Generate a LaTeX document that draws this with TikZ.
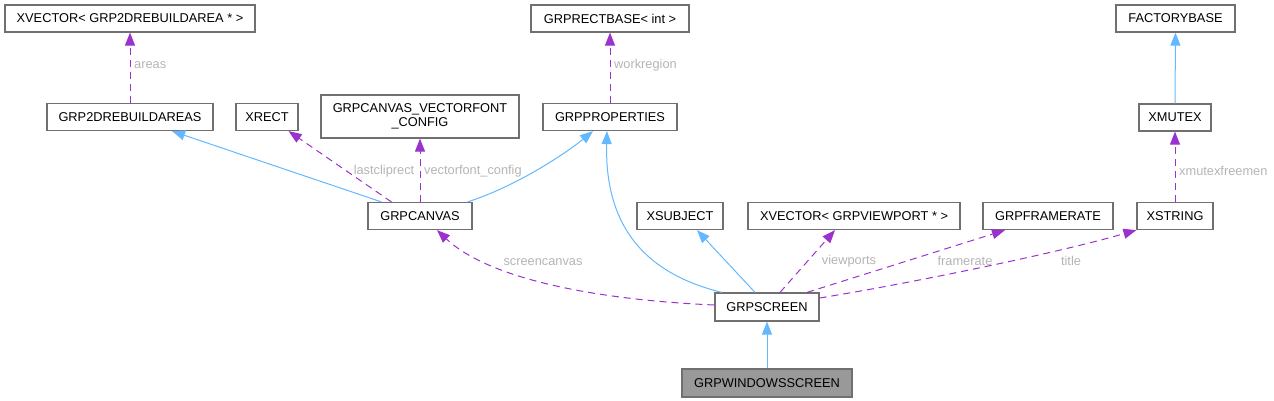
\documentclass[tikz,border=0pt]{standalone}
\usepackage{fontspec}
\setmainfont{Liberation Sans}
\usetikzlibrary{arrows.meta}
\definecolor{inhc}{HTML}{63B8FF}
\definecolor{usec}{HTML}{9A32CD}
\definecolor{boxc}{HTML}{707070}
\definecolor{labc}{HTML}{B4B4B4}
\definecolor{hlc}{HTML}{999999}
\begin{document}
\begin{tikzpicture}[x=1pt,y=-1pt,
  box/.style={draw=boxc, line width=1.2pt, fill=white, inner sep=0pt, minimum height=27pt, font=\fontsize{12.8}{14.5}\selectfont},
  hlbox/.style={box, fill=hlc},
  inh/.style={draw=inhc, line width=1pt, -{Triangle[length=13pt,width=10pt]}},
  use/.style={draw=usec, line width=1pt, dash pattern=on 7pt off 5pt, -{Triangle[length=13pt,width=10pt]}},
  lab/.style={text=labc, inner sep=0pt, font=\fontsize{12.8}{14.5}\selectfont}]
\useasboundingbox (0,0) rectangle (1274,401);
% nodes
\node[box, minimum width=250pt] (xvgra) at (130,18.5) {XVECTOR< GRP2DREBUILDAREA * >};
\node[box, minimum width=158pt] (rectbase) at (610,18.5) {GRPRECTBASE< int >};
\node[box, minimum width=119pt] (factory) at (1175.5,18.5) {FACTORYBASE};
\node[box, minimum width=166pt] (rebuild) at (130,117) {GRP2DREBUILDAREAS};
\node[box, minimum width=62pt] (xrect) at (267,117) {XRECT};
\node[box, minimum width=198pt, minimum height=43pt, align=center] (vfc) at (420,116.5) {GRPCANVAS\_VECTORFONT\\\_CONFIG};
\node[box, minimum width=134pt] (props) at (610,117) {GRPPROPERTIES};
\node[box, minimum width=72pt] (xmutex) at (1175,117.5) {XMUTEX};
\node[box, minimum width=104pt] (canvas) at (420,216) {GRPCANVAS};
\node[box, minimum width=86pt] (xsubject) at (680,216) {XSUBJECT};
\node[box, minimum width=212pt] (xvgvp) at (854,216) {XVECTOR< GRPVIEWPORT * >};
\node[box, minimum width=130pt] (framerate) at (1048,216) {GRPFRAMERATE};
\node[box, minimum width=76pt] (xstring) at (1175,216) {XSTRING};
\node[box, minimum width=104pt, minimum height=28pt] (screen) at (767,307) {GRPSCREEN};
\node[hlbox, minimum width=170pt, minimum height=28pt] (winscreen) at (767,383) {GRPWINDOWSSCREEN};
% edges
\draw[use] (rebuild.north) -- (xvgra.south);
\draw[inh] ([xshift=14pt]canvas.north west) -- ([xshift=42pt]rebuild.south);
\draw[use] ([xshift=24pt]canvas.north west) -- ([xshift=-10pt]xrect.south east);
\draw[use] (canvas.north) -- (vfc.south);
\draw[inh] ([xshift=-5pt]canvas.north east) .. controls (520,185) and (570,150) .. ([xshift=-17pt]props.south);
\draw[use] (props.north) -- (rectbase.south);
\draw[inh] (xmutex.north) -- (factory.south);
\draw[use] (xstring.north) -- (xmutex.south);
\draw[use] ([yshift=2pt]screen.west) .. controls (600,300) and (490,280) .. ([xshift=17pt]canvas.south);
\draw[inh] ([xshift=-45pt]screen.north) .. controls (630,270) and (605,210) .. ([xshift=-3pt]props.south);
\draw[inh] ([xshift=-12pt]screen.north) -- ([xshift=17pt]xsubject.south);
\draw[use] ([xshift=13pt]screen.north) -- ([xshift=-19pt]xvgvp.south);
\draw[use] ([xshift=40pt]screen.north) -- ([xshift=-43pt]framerate.south);
\draw[use] ([yshift=9pt]screen.east) .. controls (900,285) and (1050,255) .. (xstring.south west);
\draw[inh] (winscreen.north) -- (screen.south);
% labels
\node[lab, anchor=west] (lareas) at (134,65) {areas};
\node[lab] (llast) at (384,171) {lastcliprect};
\node[lab, anchor=west] (lvfc) at (424,171) {vectorfont\_config};
\node[lab, anchor=west] (lwork) at (614,65) {workregion};
\node[lab, anchor=west] (lxm) at (1179,171) {xmutexfreemen};
\node[lab] (lsc) at (543,262) {screencanvas};
\node[lab] (lvp) at (849,261) {viewports};
\node[lab] (lfr) at (965,261) {framerate};
\node[lab] (lti) at (1071,261) {title};
\end{tikzpicture}
\end{document}
